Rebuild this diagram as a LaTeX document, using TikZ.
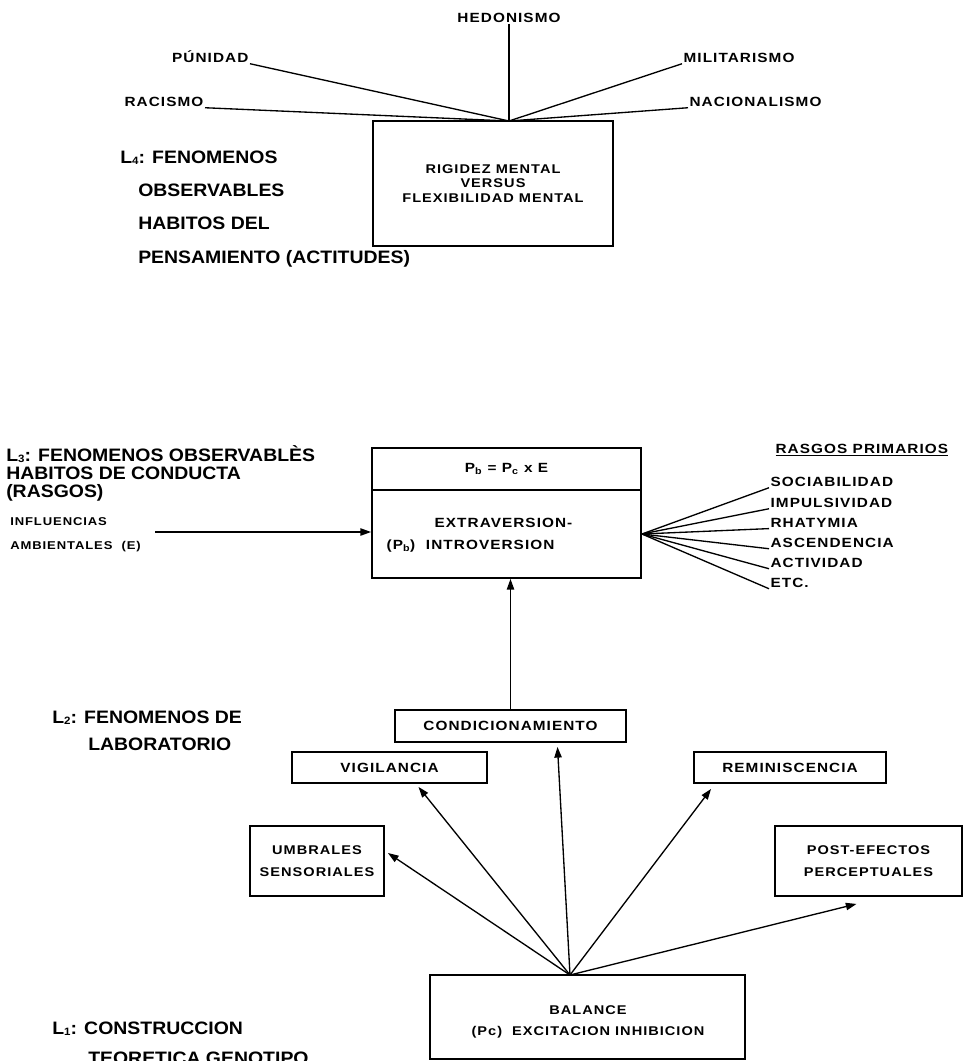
\documentclass[tikz,border=0pt]{standalone}
\usepackage{fontspec}
\setmainfont{Liberation Sans}
\newfontfamily\widefont[FakeStretch=1.15,LetterSpace=8]{Liberation Sans}
\newfontfamily\bigfont[FakeStretch=1.08]{Liberation Sans}
\usetikzlibrary{arrows.meta,calc}
\newdimen\pxu \pxu=0.75pt
\newcommand{\lsub}[1]{\raisebox{-1.2pt}{\fontsize{8}{8}\selectfont #1}}
\begin{document}
\begin{tikzpicture}[x=0.75pt,y=-0.75pt,
  lbl/.style={font=\widefont\bfseries\fontsize{10}{12}\selectfont, inner sep=1pt},
  sml/.style={font=\widefont\bfseries\fontsize{8.5}{10}\selectfont, inner sep=0pt, anchor=base west},
  big/.style={font=\bigfont\bfseries\fontsize{13.5}{13.5}\selectfont, inner sep=0pt, anchor=base west},
  box/.style={draw, line width=1.4pt, inner sep=0pt, align=center, font=\widefont\bfseries\fontsize{10}{12}\selectfont},
  ln/.style={line width=1pt},
  arr/.style={line width=1pt, -{Triangle[length=8pt,width=5.5pt]}},
]
\useasboundingbox (0,0) rectangle (969,1061);

% ---------- L4 ----------
\coordinate (th) at (509,121);
\node[lbl, anchor=base] (hed) at (509,22) {HEDONISMO};
\node[lbl, anchor=base east] (pun) at (250,62) {PÚNIDAD};
\node[lbl, anchor=base east] (rac) at (205,106) {RACISMO};
\node[lbl, anchor=base west] (mil) at (682,62) {MILITARISMO};
\node[lbl, anchor=base west] (nac) at (688,106) {NACIONALISMO};
\draw[ln] (hed.south) -- (th);
\draw[ln] (pun.south east) -- (th);
\draw[ln] (rac.south east) -- (th);
\draw[ln] (mil.south west) -- (th);
\draw[ln] (nac.south west) -- (th);
\node[box, minimum width=240\pxu, minimum height=125\pxu, font=\widefont\bfseries\fontsize{9.5}{10.9}\selectfont] (rig) at (493,183.5) {RIGIDEZ MENTAL\\VERSUS\\FLEXIBILIDAD MENTAL};

\node[big] (l4a) at (120,163) {L\lsub{4}: FENOMENOS};
\node[big] (l4b) at (138,196) {OBSERVABLES};
\node[big] (l4c) at (138,229) {HABITOS DEL};
\node[big] (l4d) at (138,263) {PENSAMIENTO (ACTITUDES)};

% ---------- L3 ----------
\node[big] (l3a) at (6,461) {L\lsub{3}: FENOMENOS OBSERVABLÈS};
\node[big] (l3b) at (6,479) {HABITOS DE CONDUCTA};
\node[big] (l3c) at (6,497) {(RASGOS)};
\node[sml] (inf1) at (10,525) {INFLUENCIAS};
\node[sml] (inf2) at (10,549) {AMBIENTALES\ \ (E)};
\coordinate (infs) at (155,532);

\node[box, minimum width=269\pxu, minimum height=42\pxu] (pbtop) at (506.5,469) {P\textsubscript{b} = P\textsubscript{c} x E};
\node[box, minimum width=269\pxu, minimum height=88\pxu] (pb) at (506.5,534) {};
\node[lbl, anchor=base west] (pbt1) at (433,527) {EXTRAVERSION-};
\node[lbl, anchor=base west] (pbt2) at (385,549) {(P\textsubscript{b})\ \ INTROVERSION};
\draw[arr] (infs) -- (infs -| pb.west);

\node[lbl, anchor=base west] (rp) at (774,453) {\underline{RASGOS PRIMARIOS}};
\node[lbl, anchor=base west] (r1) at (769,486) {SOCIABILIDAD};
\node[lbl, anchor=base west] (r2) at (769,507) {IMPULSIVIDAD};
\node[lbl, anchor=base west] (r3) at (769,527) {RHATYMIA};
\node[lbl, anchor=base west] (r4) at (769,547) {ASCENDENCIA};
\node[lbl, anchor=base west] (r5) at (769,567) {ACTIVIDAD};
\node[lbl, anchor=base west] (r6) at (769,587) {ETC.};
\foreach \r in {r1,r2,r3,r4,r5,r6} \draw[ln] (pb.east) -- (\r.south west);

% ---------- L2 ----------
\node[big] (l2a) at (52,723) {L\lsub{2}: FENOMENOS DE};
\node[big] (l2b) at (88,750) {LABORATORIO};

\node[box, minimum width=231\pxu, minimum height=32\pxu] (cond) at (510.5,726) {CONDICIONAMIENTO};
\node[box, minimum width=195\pxu, minimum height=31\pxu] (vig) at (389.5,767.5) {VIGILANCIA};
\node[box, minimum width=192\pxu, minimum height=31\pxu] (rem) at (790,767.5) {REMINISCENCIA};
\node[box, minimum width=134\pxu, minimum height=70\pxu, font=\widefont\bfseries\fontsize{9.5}{16}\selectfont] (umb) at (317,861) {UMBRALES\\SENSORIALES};
\node[box, minimum width=187\pxu, minimum height=70\pxu, font=\widefont\bfseries\fontsize{9.5}{16}\selectfont] (post) at (868.5,861) {POST-EFECTOS\\PERCEPTUALES};
\draw[arr] (cond.north) -- (cond.north |- pb.south);

% ---------- L1 ----------
\node[box, minimum width=315\pxu, minimum height=84\pxu] (bal) at (587.5,1017) {};
\node[lbl, align=center, font=\widefont\bfseries\fontsize{9.5}{16}\selectfont] (balt) at (588,1022) {BALANCE\\(Pc)\ \ EXCITACION INHIBICION};
\coordinate (bh) at (570,975);
\draw[arr] (bh) -- ($(umb.east)+(3,-8)$);
\draw[arr] (bh) -- ($(vig.south)+(29,3)$);
\draw[arr] (bh) -- ($(cond.south)+(47,4)$);
\draw[arr] (bh) -- ($(rem.south west)+(18,5)$);
\draw[arr] (bh) -- ($(post.south)+(-12,7)$);

\node[big] (l1a) at (52,1034) {L\lsub{1}: CONSTRUCCION};
\node[big] (l1b) at (88,1064) {TEORETICA GENOTIPO};
\end{tikzpicture}
\end{document}
